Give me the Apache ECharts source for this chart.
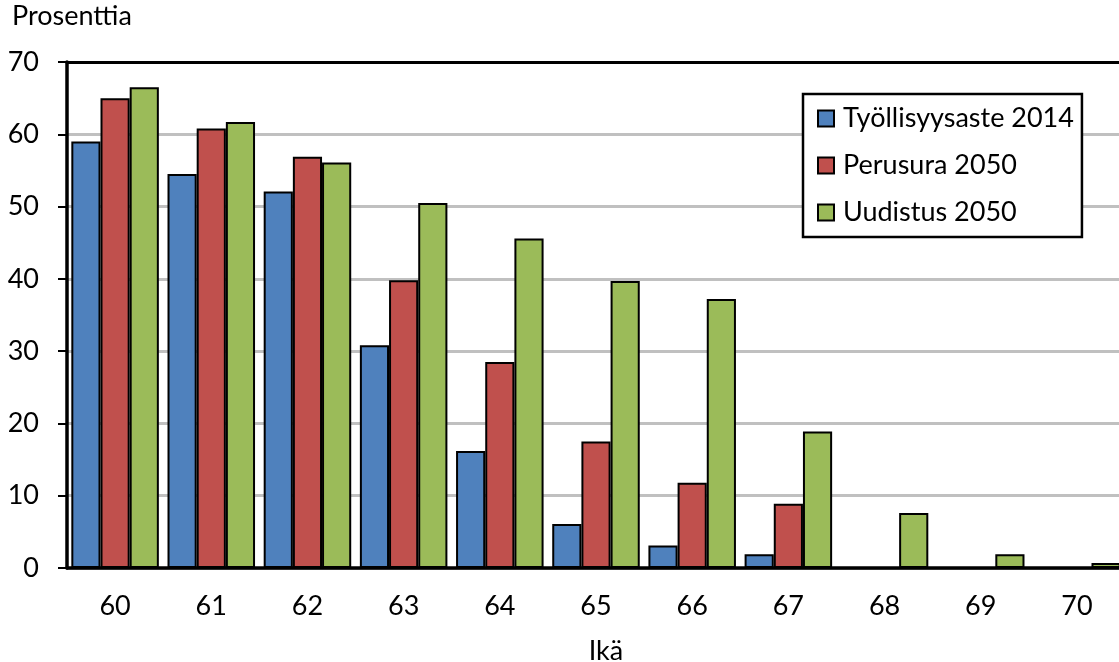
<!DOCTYPE html>
<html>
<head>
<meta charset="utf-8">
<script src="https://cdn.jsdelivr.net/npm/echarts@6/dist/echarts.min.js"></script>
<style>
  html, body { margin: 0; padding: 0; background: #fff; }
  #chart { width: 1119px; height: 662px; }
</style>
</head>
<body>
<div id="chart"></div>
<script>
// Ages on the category axis
const ages = ['60', '61', '62', '63', '64', '65', '66', '67', '68', '69', '70'];

// Employment rate by age, percent
const tyollisyysaste2014 = [59.0, 54.5, 52.1, 30.8, 16.2, 6.1, 3.1, 1.9, 0, 0, 0];
const perusura2050      = [65.0, 60.8, 56.9, 39.8, 28.5, 17.5, 11.8, 8.9, 0, 0, 0];
const uudistus2050      = [66.5, 61.7, 56.1, 50.5, 45.6, 39.7, 37.2, 18.9, 7.6, 1.9, 0.7];

const seriesNames = ['Työllisyysaste 2014', 'Perusura 2050', 'Uudistus 2050'];
const seriesColors = ['#4F81BD', '#C0504D', '#9BBB59'];

const FONT = 'Lato';
const FS = 27;

const chart = echarts.init(document.getElementById('chart'), null, { renderer: 'canvas' });

function barSeries(name, data, color) {
  return {
    name: name,
    type: 'bar',
    data: data,
    barGap: '0%',
    barCategoryGap: '9%',
    itemStyle: { color: color, borderColor: '#000', borderWidth: 2 },
    emphasis: { disabled: true }
  };
}

chart.setOption({
  animation: false,
  backgroundColor: '#fff',
  textStyle: { fontFamily: FONT, color: '#000' },
  grid: { left: 67, right: -6, top: 62, bottom: 94, containLabel: false, outerBoundsMode: 'none' },
  legend: {
    orient: 'vertical',
    left: 803,
    top: 94,
    padding: [11, 8, 11, 14],
    itemGap: 20,
    itemWidth: 16,
    itemHeight: 16,
    icon: 'rect',
    backgroundColor: '#fff',
    borderColor: '#000',
    borderWidth: 2.5,
    data: seriesNames,
    textStyle: { fontFamily: FONT, fontSize: FS, lineHeight: 26, color: '#000', padding: [0, 0, 0, 4] }
  },
  graphic: [{
    type: 'text',
    left: 12,
    top: 3,
    style: { text: 'Prosenttia', font: FS + 'px ' + FONT, fill: '#000' }
  }],
  xAxis: [{
    type: 'category',
    data: ages,
    name: 'Ikä',
    nameLocation: 'middle',
    nameGap: 70,
    nameTextStyle: { fontFamily: FONT, fontSize: FS, color: '#000', padding: [0, 0, 0, 20] },
    axisLine: { show: true, lineStyle: { color: '#000', width: 3.5 } },
    axisTick: { show: false },
    axisLabel: { fontFamily: FONT, fontSize: FS, color: '#000', margin: 25 },
    splitLine: { show: false }
  }, {
    // top edge of the plot area
    type: 'category',
    data: ages,
    position: 'top',
    axisLine: { show: true, lineStyle: { color: '#000', width: 3 } },
    axisTick: { show: false },
    axisLabel: { show: false },
    splitLine: { show: false }
  }],
  yAxis: {
    type: 'value',
    min: 0,
    max: 70,
    interval: 10,
    axisLine: { show: true, lineStyle: { color: '#000', width: 3.5 } },
    axisTick: { show: true, length: 9, lineStyle: { color: '#000', width: 2 } },
    axisLabel: { fontFamily: FONT, fontSize: FS, color: '#000', margin: 28 },
    splitLine: { show: true, lineStyle: { color: '#c0c0c0', width: 3 } }
  },
  series: [
    barSeries(seriesNames[0], tyollisyysaste2014, seriesColors[0]),
    barSeries(seriesNames[1], perusura2050, seriesColors[1]),
    barSeries(seriesNames[2], uudistus2050, seriesColors[2])
  ]
});
</script>
</body>
</html>
